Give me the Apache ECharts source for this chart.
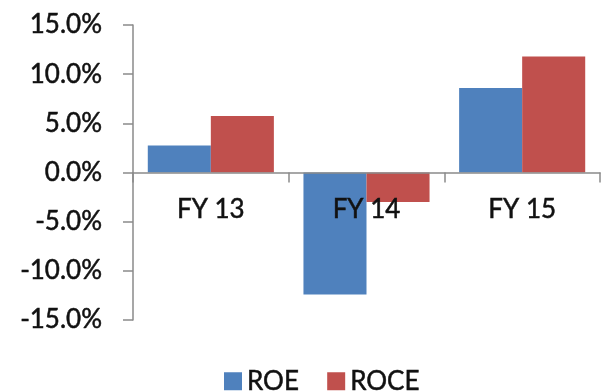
<!DOCTYPE html>
<html>
<head>
<meta charset="utf-8">
<script src="https://cdn.jsdelivr.net/npm/echarts@6/dist/echarts.min.js"></script>
<style>
  html, body { margin: 0; padding: 0; background: #ffffff; }
  #chart { width: 601px; height: 392px; }
</style>
</head>
<body>
<div id="chart"></div>
<script>
// Return ratios by fiscal year, in percent
var categories = ['FY 13', 'FY 14', 'FY 15'];
var roe = [2.75, -12.4, 8.6];
var roce = [5.75, -3.0, 11.8];
var seriesNames = ['ROE', 'ROCE'];

var FONT = 'Lato';
// slightly heavier strokes for all chart text
var TEXT = { fontFamily: FONT, fontSize: 26, color: '#111', textBorderColor: '#111', textBorderWidth: 0.5 };

var chart = echarts.init(document.getElementById('chart'), null, { renderer: 'canvas' });

chart.setOption({
  animation: false,
  backgroundColor: '#ffffff',
  color: ['#4F81BD', '#C0504D'],
  grid: { left: 133, right: 1, top: 25, bottom: 72, containLabel: false },
  legend: {
    data: seriesNames,
    left: 224,
    top: 368,
    icon: 'rect',
    itemWidth: 18,
    itemHeight: 18,
    itemGap: 28,
    padding: 0,
    textStyle: Object.assign({ lineHeight: 22 }, TEXT)
  },
  xAxis: {
    type: 'category',
    data: categories,
    z: 5,
    // category axis drawn along the zero line, half way up the plot
    offset: -147.5,
    axisLine: { onZero: false, lineStyle: { color: '#8a8a8a', width: 1.5 } },
    axisTick: { show: true, length: 10, alignWithLabel: false, lineStyle: { color: '#8a8a8a', width: 1.5 } },
    axisLabel: Object.assign({ margin: 24 }, TEXT),
    splitLine: { show: false }
  },
  yAxis: {
    type: 'value',
    min: -15,
    max: 15,
    interval: 5,
    axisLine: { show: true, lineStyle: { color: '#8a8a8a', width: 1.5 } },
    axisTick: { show: true, length: 10, lineStyle: { color: '#8a8a8a', width: 1.5 } },
    axisLabel: Object.assign({
      margin: 31,
      formatter: function (v) { return v.toFixed(1) + '%'; }
    }, TEXT),
    splitLine: { show: false }
  },
  series: [
    { name: seriesNames[0], type: 'bar', data: roe, barGap: '0%', barCategoryGap: '19%' },
    { name: seriesNames[1], type: 'bar', data: roce, barGap: '0%', barCategoryGap: '19%' }
  ]
});
</script>
</body>
</html>
